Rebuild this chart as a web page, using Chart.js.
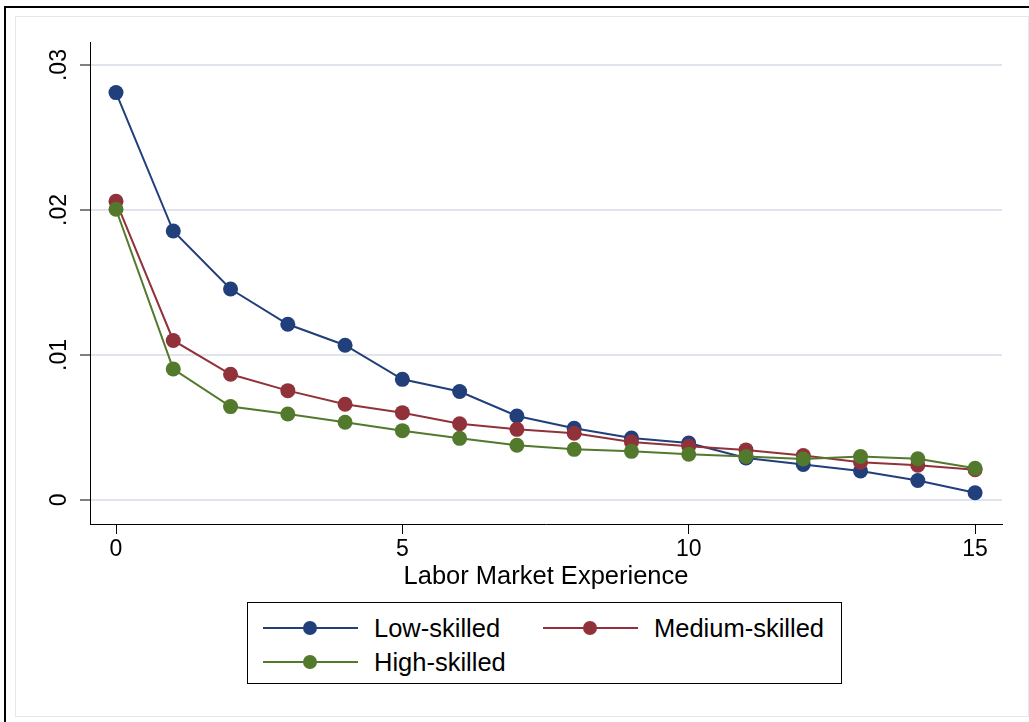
<!DOCTYPE html>
<html>
<head>
<meta charset="utf-8">
<script src="https://cdn.jsdelivr.net/npm/chart.js@4.4.1/dist/chart.umd.min.js"></script>
<style>
  html, body { margin:0; padding:0; background:#fff; width:1029px; height:722px; overflow:hidden; font-family:"Liberation Sans", Arial, sans-serif; }
  #outer { position:absolute; left:4px; top:6px; width:1100px; height:800px; border-left:2px solid #000; border-top:2px solid #000; box-sizing:border-box; }
  #inner { position:absolute; left:15px; top:16px; width:1014px; height:701px; border:1px solid #e6e6ee; box-sizing:border-box; }
  #wrap { position:absolute; left:0; top:0; width:1029px; height:722px; }
  #legend { position:absolute; left:247px; top:602px; width:595px; height:82px; border:1px solid #000; box-sizing:border-box; background:#fff; }
  .item { position:absolute; height:30px; display:flex; align-items:center; font-size:25.5px; color:#000; white-space:nowrap; }
  .sample { position:relative; width:95px; height:30px; margin-right:16px; }
  .sample .ln { position:absolute; left:0; right:0; top:14px; height:2px; }
  .sample .dot { position:absolute; left:40px; top:8px; width:14px; height:14px; border-radius:50%; }
</style>
</head>
<body>
<div id="outer"></div>
<div id="inner"></div>
<div id="wrap"><canvas id="c" width="1029" height="722"></canvas></div>
<div id="legend"></div>
<script>
// ---- data ----
const experience = [0,1,2,3,4,5,6,7,8,9,10,11,12,13,14,15];
const lowSkilled    = [0.0281, 0.01855, 0.01455, 0.01212, 0.01067, 0.00832, 0.00748, 0.00579, 0.00495, 0.00427, 0.00392, 0.0029, 0.00245, 0.002, 0.00134, 0.0005];
const mediumSkilled = [0.0206, 0.0110, 0.00867, 0.00754, 0.0066, 0.00602, 0.00526, 0.00487, 0.0046, 0.004, 0.0037, 0.00345, 0.00306, 0.0026, 0.00239, 0.00208];
const highSkilled   = [0.02005, 0.00903, 0.00644, 0.00593, 0.00536, 0.00478, 0.00425, 0.00377, 0.00349, 0.00335, 0.00315, 0.003, 0.00282, 0.003, 0.00284, 0.00218];
const seriesNames = ['Low-skilled', 'Medium-skilled', 'High-skilled'];
const yTickValues = [0, 0.01, 0.02, 0.03];
const yTickLabels = ['0', '.01', '.02', '.03'];
const xTickValues = [0, 5, 10, 15];
const xTickLabels = ['0', '5', '10', '15'];
const xTitle = 'Labor Market Experience';

const colors = ['#213f7b', '#91323a', '#52792c'];
const FONT = '"Liberation Sans", Arial, sans-serif';

function pts(vals){ return experience.map((x,i)=>({x:x, y:vals[i]})); }
const allSeries = [lowSkilled, mediumSkilled, highSkilled];

const datasets = allSeries.map((vals,i)=>({
  label: seriesNames[i],
  data: pts(vals),
  borderColor: colors[i],
  backgroundColor: colors[i],
  borderWidth: 2,
  pointRadius: 7.5,
  pointHoverRadius: 7.5,
  pointBorderWidth: 0,
  pointBackgroundColor: colors[i],
  tension: 0,
  order: 3 - i
}));

new Chart(document.getElementById('c'), {
  type: 'line',
  data: { datasets },
  options: {
    responsive: false,
    animation: false,
    events: [],
    layout: { padding: { left: 20, top: 42, right: 27, bottom: 130 } },
    plugins: { legend: { display: false }, tooltip: { enabled: false } },
    scales: {
      x: {
        type: 'linear',
        min: -0.454, max: 15.47,
        afterBuildTicks: s => { s.ticks = xTickValues.map(v => ({value: v})); },
        afterFit: s => { s.height = 68; },
        ticks: {
          callback: (v) => xTickLabels[xTickValues.indexOf(v)],
          font: { family: FONT, size: 23 }, color: '#000', padding: 2,
          maxRotation: 0, minRotation: 0, autoSkip: false
        },
        grid: { drawOnChartArea: false, drawTicks: true, tickLength: 10, tickColor: '#000', tickWidth: 1 },
        border: { display: true, color: '#000', width: 1 },
        title: { display: true, text: xTitle, font: { family: FONT, size: 25.5 }, color: '#000', padding: { top: 0, bottom: 0 } }
      },
      y: {
        type: 'linear',
        min: -0.00166, max: 0.03159,
        afterBuildTicks: s => { s.ticks = yTickValues.map(v => ({value: v})); },
        afterFit: s => { s.width = 70; },
        ticks: {
          callback: (v) => { const k = yTickValues.findIndex(t => Math.abs(t - v) < 1e-9); return k >= 0 ? yTickLabels[k] : ''; },
          font: { family: FONT, size: 23 }, color: '#000', padding: 4,
          minRotation: 90, maxRotation: 90, crossAlign: 'center', autoSkip: false, includeBounds: false
        },
        grid: { color: '#dfe4ee', lineWidth: 2, drawTicks: true, tickLength: 10, tickColor: '#000', tickWidth: 1 },
        border: { display: true, color: '#000', width: 1 }
      }
    }
  }
});

// HTML legend built from series names/colours
const legend = document.getElementById('legend');
const legendPos = [ {left: 15, top: 10}, {left: 295, top: 10}, {left: 15, top: 44} ];
seriesNames.forEach((name, i) => {
  const it = document.createElement('div');
  it.className = 'item';
  it.style.left = legendPos[i].left + 'px';
  it.style.top = legendPos[i].top + 'px';
  it.innerHTML = '<div class="sample"><div class="ln" style="background:' + colors[i] + '"></div><div class="dot" style="background:' + colors[i] + '"></div></div><span></span>';
  it.querySelector('span').textContent = name;
  legend.appendChild(it);
});
</script>
</body>
</html>
